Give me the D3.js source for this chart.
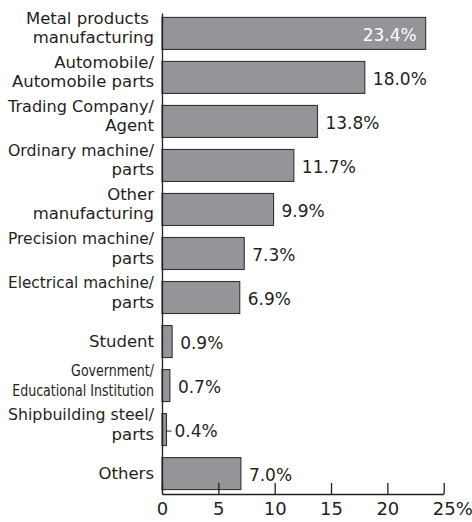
<!DOCTYPE html>
<html>
<head>
<meta charset="utf-8">
<script src="https://cdn.jsdelivr.net/npm/d3@7"></script>
<style>
  html, body { margin: 0; padding: 0; background: #fff; }
  svg { display: block; font-family: "DejaVu Sans", sans-serif; }
</style>
</head>
<body>
<svg id="chart" width="472" height="522"></svg>
<script>
// ---- data ----
const categories = [
  "Metal products \nmanufacturing",
  "Automobile/\nAutomobile parts",
  "Trading Company/\nAgent",
  "Ordinary machine/\nparts",
  "Other\nmanufacturing",
  "Precision machine/\nparts",
  "Electrical machine/\nparts",
  "Student",
  "Government/\nEducational Institution",
  "Shipbuilding steel/\nparts",
  "Others"
];
const values = [23.4, 18.0, 13.8, 11.7, 9.9, 7.3, 6.9, 0.9, 0.7, 0.4, 7.0];
const xTicks = [0, 5, 10, 15, 20, 25];
const xUnit = "%";
const condensedLabels = ["Government/\nEducational Institution"];

// ---- layout ----
const W = 472, H = 522;
const mLeft = 162, mRight = 443.7, mTop = 13, mBottom = 494;
const ink = "#231f20";
const barFill = "#939598";
const maxLabelW = 146;

const svg = d3.select("#chart");

const x = d3.scaleLinear().domain([0, 25]).range([mLeft, mRight]);
const y = d3.scaleBand().domain(categories).range([mTop, mBottom])
  .paddingInner(0.273).paddingOuter(0.1);

// bars
svg.append("g").selectAll("rect")
  .data(values)
  .join("rect")
  .attr("x", x(0))
  .attr("y", (d, i) => y(categories[i]))
  .attr("width", d => x(d) - x(0))
  .attr("height", y.bandwidth())
  .attr("fill", barFill)
  .attr("stroke", "#333")
  .attr("stroke-width", 1.1);

// y axis line
const yAxis = svg.append("g")
  .attr("transform", `translate(${mLeft},0)`)
  .call(d3.axisLeft(y).tickSize(0).tickSizeOuter(0).tickFormat(""));
yAxis.select(".domain").attr("stroke", ink).attr("stroke-width", 1.3);

// x axis
const xAxis = svg.append("g")
  .attr("transform", `translate(0,${mBottom})`)
  .call(d3.axisBottom(x).tickValues(xTicks).tickSize(-11).tickSizeOuter(0).tickPadding(8.5)
    .tickFormat(d => d));
xAxis.select(".domain").attr("stroke", ink).attr("stroke-width", 1.3);
xAxis.selectAll(".tick line").attr("stroke", ink).attr("stroke-width", 1.3);
xAxis.selectAll(".tick text")
  .attr("fill", ink)
  .style("font-family", '"DejaVu Sans", sans-serif')
  .style("font-size", "18px");
// append unit to last tick, keeping number centred on tick
xAxis.selectAll(".tick text").filter(d => d === xTicks[xTicks.length - 1])
  .each(function() {
    const t = d3.select(this);
    const w = this.getComputedTextLength();
    t.attr("text-anchor", "start").attr("x", -w / 2);
    t.append("tspan").text(xUnit);
  });

// category labels
const labelX = mLeft - 8;
const catG = svg.append("g")
  .style("font-size", "16.5px")
  .attr("fill", ink);
categories.forEach((c, i) => {
  const lines = c.split("\n");
  const cy = y(c) + y.bandwidth() / 2;
  const baselines = lines.length === 1 ? [cy + 5.8] : [cy - 9.7, cy + 10];
  const condensed = condensedLabels.includes(c);
  lines.forEach((ln, k) => {
    const t = catG.append("text")
      .attr("text-anchor", "end")
      .attr("xml:space", "preserve")
      .style("white-space", "pre")
      .attr("transform", condensed
        ? `translate(${labelX},${baselines[k]}) scale(0.765,1)`
        : `translate(${labelX},${baselines[k]})`)
      .text(ln);
    if (!condensed) {
      const w = t.node().getComputedTextLength();
      if (w > maxLabelW) {
        t.attr("textLength", maxLabelW).attr("lengthAdjust", "spacingAndGlyphs");
      }
    }
  });
});

// value labels
const valG = svg.append("g").style("font-size", "17px");
const gap = 8;
values.forEach((v, i) => {
  const c = categories[i];
  const cy = y(c) + y.bandwidth() / 2;
  const txt = v.toFixed(1) + "%";
  const t = valG.append("text").attr("y", cy + 7.8).text(txt);
  const w = t.node().getComputedTextLength();
  if (x(v) + gap + w > W) {
    t.attr("x", x(v) - 9).attr("text-anchor", "end").attr("fill", "#ffffff");
  } else {
    t.attr("x", x(v) + gap).attr("fill", ink);
    if (v < 0.5) {
      svg.append("line")
        .attr("x1", x(v)).attr("x2", x(v) + 5)
        .attr("y1", cy + 1.5).attr("y2", cy + 1.5)
        .attr("stroke", ink).attr("stroke-width", 1);
    }
  }
});
</script>
</body>
</html>
